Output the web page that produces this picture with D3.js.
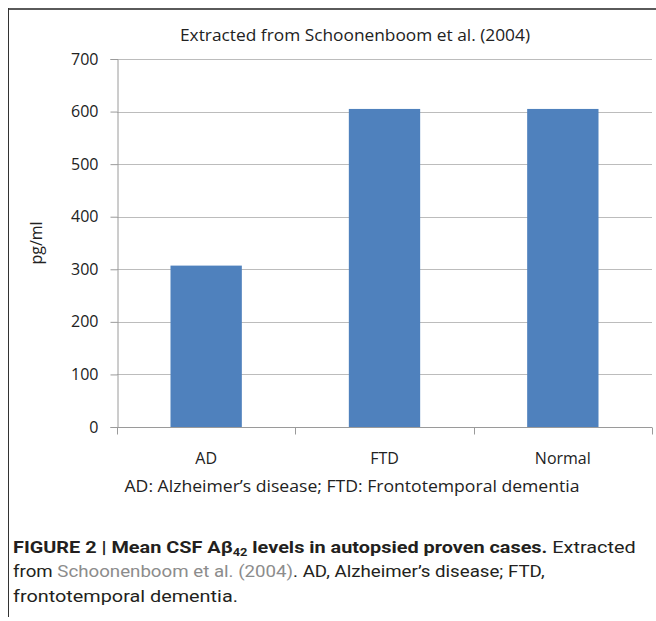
<!DOCTYPE html>
<html><head><meta charset="utf-8">
<script src="https://cdn.jsdelivr.net/npm/d3@7"></script>
<style>
html,body{margin:0;padding:0;background:#fff;}
svg{display:block;}
</style></head>
<body>
<svg id="chart" width="656" height="621"></svg>
<script>
const categories = ["AD", "FTD", "Normal"];
const values = [307, 605, 605];
const yTicks = [0, 100, 200, 300, 400, 500, 600, 700];
const titleText = "Extracted from Schoonenboom et al. (2004)";
const yLabel = "pg/ml";
const xNote = "AD: Alzheimer’s disease; FTD: Frontotemporal dementia";

(function () {
const svg = d3.select("#chart");
const chartFont = "'Open Sans', Lato, sans-serif";
const capFont = "Roboto, 'Liberation Sans', sans-serif";

// frame
svg.append("line").attr("x1", 8).attr("x2", 656).attr("y1", 9).attr("y2", 9)
  .attr("stroke", "#5a5a5a").attr("stroke-width", 2);
svg.append("line").attr("x1", 8.5).attr("x2", 8.5).attr("y1", 8).attr("y2", 617)
  .attr("stroke", "#333").attr("stroke-width", 1);

const pLeft = 117, pRight = 652, pTop = 59, pBottom = 427;
const x = d3.scaleBand().domain(categories).range([pLeft, pRight]).paddingInner(0.6).paddingOuter(0.3);
const y = d3.scaleLinear().domain([0, 700]).range([pBottom, pTop]);

// gridlines
svg.append("g").selectAll("line").data(yTicks.filter(d => d > 0)).join("line")
  .attr("x1", pLeft).attr("x2", pRight)
  .attr("y1", d => Math.round(y(d)) + 0.5).attr("y2", d => Math.round(y(d)) + 0.5)
  .attr("stroke", "#bcbcbc").attr("stroke-width", 1);

// y axis
const yAxis = svg.append("g").attr("transform", `translate(${pLeft + 0.5},0)`)
  .call(d3.axisLeft(y).tickValues(yTicks).tickSize(7).tickPadding(12));
yAxis.select(".domain").attr("stroke", "#9a9a9a");
yAxis.selectAll(".tick line").attr("stroke", "#9a9a9a");
yAxis.selectAll(".tick text").attr("font-family", chartFont).attr("font-size", 16).attr("fill", "#222");

// bars
svg.append("g").selectAll("rect").data(values).join("rect")
  .attr("x", (d, i) => x(categories[i]))
  .attr("width", x.bandwidth())
  .attr("y", d => y(d))
  .attr("height", d => y(0) - y(d))
  .attr("fill", "#4f81bd");

// x axis
const xPos = d3.scalePoint().domain(d3.range(categories.length + 1)).range([pLeft, pRight]);
const xAxisG = svg.append("g").attr("transform", `translate(0,${pBottom + 0.5})`);
xAxisG.append("line").attr("x1", pLeft).attr("x2", pRight).attr("stroke", "#9a9a9a");
xAxisG.selectAll(".tk").data(d3.range(categories.length + 1)).join("line")
  .attr("class", "tk")
  .attr("x1", d => Math.round(xPos(d)) + 0.5).attr("x2", d => Math.round(xPos(d)) + 0.5)
  .attr("y1", 0).attr("y2", 7).attr("stroke", "#9a9a9a");
svg.append("g").selectAll("text").data(categories).join("text")
  .attr("x", d => x(d) + x.bandwidth() / 2).attr("y", 464)
  .attr("text-anchor", "middle").attr("font-family", chartFont).attr("font-size", 16).attr("fill", "#222")
  .text(d => d);

// title
svg.append("text").attr("x", 355).attr("y", 41).attr("text-anchor", "middle")
  .attr("font-family", chartFont).attr("font-size", 16).attr("fill", "#222")
  .attr("textLength", 350).attr("lengthAdjust", "spacingAndGlyphs").text(titleText);

// y label
svg.append("text").attr("transform", "translate(42,243) rotate(-90)").attr("text-anchor", "middle")
  .attr("font-family", chartFont).attr("font-size", 16).attr("fill", "#222").text(yLabel);

// x note
svg.append("text").attr("x", 352).attr("y", 492).attr("text-anchor", "middle")
  .attr("font-family", chartFont).attr("font-size", 16).attr("fill", "#222")
  .attr("textLength", 455).attr("lengthAdjust", "spacingAndGlyphs").text(xNote);

// caption
const capX = 13;
const cap = svg.append("g").attr("font-family", capFont).attr("font-size", 17).attr("fill", "#231f20");
const l1 = cap.append("text").attr("x", capX).attr("y", 553);
l1.append("tspan").attr("font-weight", "bold").text("FIGURE 2 | Mean CSF Aβ");
l1.append("tspan").attr("font-weight", "bold").attr("font-size", 11).attr("dy", 3).text("42");
l1.append("tspan").attr("font-weight", "bold").attr("dy", -3).text(" levels in autopsied proven cases.");
l1.append("tspan").text(" Extracted");
const l2 = cap.append("text").attr("x", capX).attr("y", 577);
l2.append("tspan").text("from ");
l2.append("tspan").attr("fill", "#8c8c8c").text("Schoonenboom et al. (2004)");
l2.append("tspan").text(". AD, Alzheimer’s disease; FTD,");
const l3 = cap.append("text").attr("x", capX).attr("y", 602).text("frontotemporal dementia.");

// fit caption lines horizontally to the reference widths
[[l1, 623], [l2, 532], [l3, 225]].forEach(([t, w]) => {
  const bw = t.node().getBBox().width;
  const sx = bw > 0 ? w / bw : 1;
  t.attr("transform", `translate(${capX},0) scale(${sx},1) translate(${-capX},0)`);
});
})();
</script>
</body></html>
